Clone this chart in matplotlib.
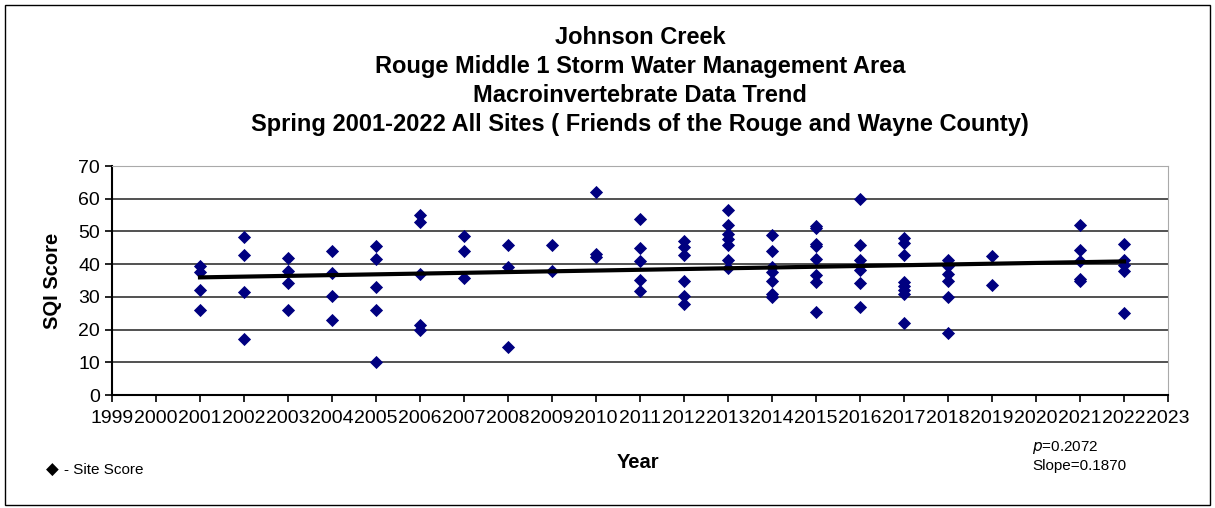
import numpy as np
import matplotlib.pyplot as plt
from matplotlib.patches import Rectangle

plt.rcParams['font.family'] = ['Liberation Sans', 'DejaVu Sans']

# SQI scores per sampling year
years = [2001, 2002, 2003, 2004, 2005, 2006, 2007, 2008, 2009, 2010, 2011,
         2012, 2013, 2014, 2015, 2016, 2017, 2018, 2019, 2021, 2022]
scores = [
    [39.5, 37.5, 32, 26],
    [48.3, 42.8, 31.5, 17.1],
    [42, 37.8, 34.2, 25.9],
    [44.1, 37.4, 30.2, 22.9],
    [45.6, 41.6, 33.1, 25.9, 10.1],
    [55.1, 52.9, 37.1, 21.3, 19.8],
    [48.7, 43.9, 35.7],
    [45.7, 39.2, 14.6],
    [46, 37.8],
    [62, 43.2, 42.2],
    [53.9, 45, 41.1, 35.1, 31.8],
    [47.1, 45.1, 42.7, 34.9, 30.2, 27.8],
    [56.7, 52.1, 49.1, 47.7, 45.9, 41.2, 38.7],
    [48.9, 43.9, 39.2, 37.5, 34.9, 31, 30],
    [51.7, 50.9, 46.3, 45.5, 41.7, 36.6, 34.6, 25.4],
    [59.8, 46, 41.2, 38.1, 34.1, 27],
    [48, 46.5, 42.7, 34.6, 33.3, 32, 31, 22.1],
    [41.2, 39.4, 37.1, 34.9, 30, 18.8],
    [42.4, 33.6],
    [51.9, 44.3, 41, 35.6, 34.9],
    [46.1, 41.2, 39.7, 37.8, 25.1],
]
year_ticks = list(range(1999, 2024))
p_value = 0.2072
slope = 0.1870

x = np.concatenate([[y] * len(s) for y, s in zip(years, scores)])
y = np.concatenate(scores)

fig = plt.figure(figsize=(12.15, 5.08), dpi=100)
ax = fig.add_axes([112 / 1215, 113 / 508, 1056 / 1215, 229 / 508])

ax.scatter(x, y, marker='D', s=45, color='#000080', zorder=3, linewidths=0)

# linear trend over the sampled years
b, a = np.polyfit(x, y, 1)
xt = np.array([years[0], years[-1]])
ax.plot(xt, a + b * xt, color='black', lw=3, zorder=4)

ax.set_xlim(1999, 2023)
ax.set_ylim(0, 70)
ax.set_xticks(year_ticks)
ax.set_xticklabels([str(t) for t in year_ticks], fontsize=14)
ax.set_yticks(range(0, 71, 10))
ax.tick_params(axis='y', labelsize=14, direction='out', length=5, width=1.2)
ax.tick_params(axis='x', direction='out', length=5, width=1.2, pad=6)
ax.yaxis.grid(True, color='#333333', lw=1.2)
ax.set_axisbelow(True)
for side in ('top', 'right'):
    ax.spines[side].set_color('#aaaaaa')
for side in ('left', 'bottom'):
    ax.spines[side].set_color('black')
    ax.spines[side].set_linewidth(1.5)

ax.set_ylabel('SQI Score', fontsize=14.5, fontweight='bold', labelpad=12)
fig.text(638 / 1215, 1 - 463 / 508, 'Year', ha='center', va='center',
         fontsize=14.5, fontweight='bold')

title = ('Johnson Creek\n'
         'Rouge Middle 1 Storm Water Management Area\n'
         'Macroinvertebrate Data Trend\n'
         'Spring 2001-2022 All Sites ( Friends of the Rouge and Wayne County)')
fig.text(640 / 1215, 1 - 81 / 508, title, ha='center', va='center',
         fontsize=17, fontweight='bold', linespacing=1.32)

# legend and statistics
fig.text(46 / 1215, 1 - 470 / 508, '\u25c6', ha='left', va='center',
         fontsize=12, family=['DejaVu Sans'])
fig.text(64 / 1215, 1 - 470 / 508, '- Site Score', ha='left', va='center',
         fontsize=11)
fig.text(1032 / 1215, 1 - 448 / 508, f'$\\it{{p}}$={p_value:.4f}',
         ha='left', va='center', fontsize=11)
fig.text(1032 / 1215, 1 - 466 / 508, f'Slope={slope:.4f}',
         ha='left', va='center', fontsize=11)

fig.patches.append(Rectangle((5 / 1215, 3 / 508), 1205 / 1215, 500 / 508,
                             transform=fig.transFigure, fill=False,
                             edgecolor='black', lw=1))

fig.savefig('out.png', dpi=100)
